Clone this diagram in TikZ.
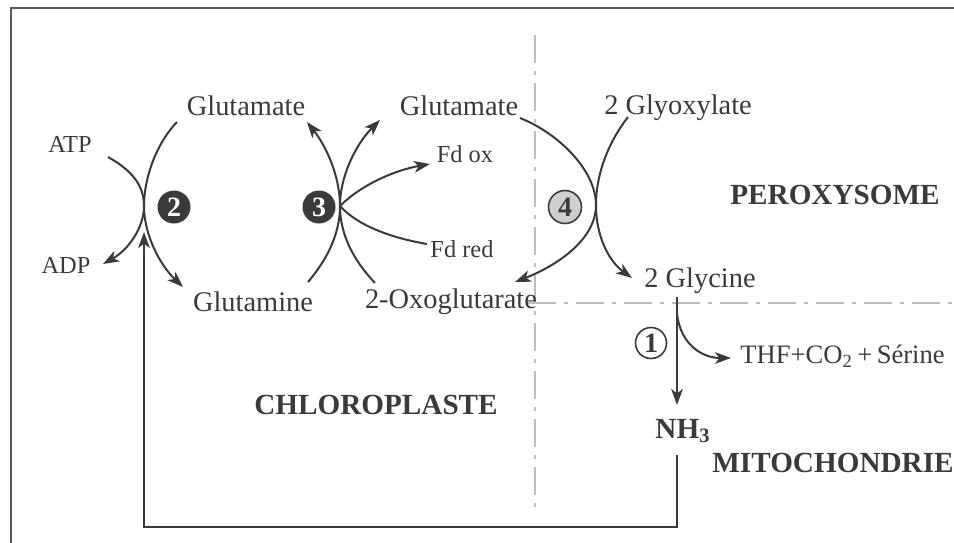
\documentclass[tikz,border=0pt]{standalone}
\usepackage{fontspec}
\setmainfont{Liberation Serif}
\usetikzlibrary{arrows.meta}
\definecolor{ink}{HTML}{3A3A3A}
\definecolor{frame}{HTML}{5A5A5A}
\definecolor{sep}{HTML}{BEBEBE}
\definecolor{enz}{HTML}{CFCFCF}
\begin{document}
\begin{tikzpicture}[x=0.5pt,y=-0.5pt,
  line/.style={ink,line width=1pt},
  arr/.style={ink,line width=1pt,-{Stealth[length=8pt,width=5.8pt,inset=2.2pt]}},
  sepline/.style={sep,line width=0.7pt,dash pattern=on 14pt off 4pt on 2pt off 4pt},
  metab/.style={text=ink,anchor=base,inner sep=0pt,font=\fontsize{14.2}{16}\selectfont},
  cofac/.style={text=ink,anchor=base,inner sep=0pt,font=\fontsize{12.2}{14}\selectfont},
  compart/.style={text=ink,anchor=base,inner sep=0pt,font=\fontsize{14.6}{16}\selectfont\bfseries},
  blackenz/.style={circle,fill=ink,text=white,minimum size=16.5pt,inner sep=0pt,font=\fontsize{14}{14}\selectfont\bfseries},
  greyenz/.style={circle,draw=ink,line width=0.8pt,fill=enz,text=ink,minimum size=16.5pt,inner sep=0pt,font=\fontsize{14}{14}\selectfont\bfseries},
  whiteenz/.style={circle,draw=ink,line width=0.8pt,fill=white,text=ink,minimum size=15.5pt,inner sep=0pt,font=\fontsize{14}{14}\selectfont\bfseries}]
\useasboundingbox (0,0) rectangle (954,542);
\draw[frame,line width=1.3pt] (11,560) -- (11,8) -- (970,8);
\draw[sepline] (535,35) -- (535,512);
\draw[sepline] (528,303) -- (954,303);
\node[cofac] (atp) at (70,152) {ATP};
\node[cofac] (adp) at (66,273) {ADP};
\node[metab] (glu1) at (246,115) {Glutamate};
\node[metab] (gln) at (253,311) {Glutamine};
\node[metab] (glu2) at (459,115) {Glutamate};
\node[metab] (oxo) at (451,308) {2-Oxoglutarate};
\node[cofac] (fdox) at (465,162) {Fd ox};
\node[cofac] (fdred) at (462,257) {Fd red};
\node[metab] (glyox) at (678,114) {2 Glyoxylate};
\node[metab] (gly) at (700,287) {2 Glycine};
\node[metab,anchor=base west,font=\fontsize{13.3}{16}\selectfont] (thf) at (740,363) {THF+CO\textsubscript{2}\,+\,Sérine};
\node[compart] (nh3) at (683,438) {NH\textsubscript{3}};
\node[compart] (chloro) at (376,414) {CHLOROPLASTE};
\node[compart] (perox) at (835,204) {PEROXYSOME};
\node[compart,anchor=base west] (mito) at (712,472) {MITOCHONDRIE};
\node[blackenz] (e2) at (174,207) {2};
\node[blackenz] (e3) at (319,207) {3};
\node[greyenz] (e4) at (565,207) {4};
\node[whiteenz] (e1) at (651,343) {1};
\coordinate (x2) at (144,206);
\coordinate (x3) at (340,206);
\coordinate (x4) at (596,205);
\coordinate (atpout) at (108,157);
\coordinate (adpin) at (103,264);
\coordinate (glu1out) at (177,122);
\coordinate (glnin) at (183,287);
\coordinate (glnout) at (308,282);
\coordinate (glu1in) at (307,122);
\coordinate (oxoout) at (375,283);
\coordinate (glu2in) at (380,120);
\coordinate (fdoxin) at (430,164);
\coordinate (fdredout) at (427,244);
\coordinate (glu2out) at (520,118);
\coordinate (oxoin) at (515,282);
\coordinate (glyoxout) at (628,117);
\coordinate (glyin) at (632,278);
\coordinate (glyout) at (677,297);
\coordinate (nh3in) at (677,405);
\coordinate (branch) at (677,313);
\coordinate (thfin) at (731,358);
\coordinate (nh3out) at (677,455);
\coordinate (corner) at (677,527);
\coordinate (x2low) at (144,232);
\draw[arr] (atpout) .. controls (135,172) and (144,188) .. (x2) .. controls (144,228) and (128,250) .. (adpin);
\draw[arr] (glu1out) .. controls (155,145) and (144,180) .. (x2) .. controls (144,235) and (160,265) .. (glnin);
\draw[arr] (nh3out) -- (corner) -| (x2low);
\draw[arr] (glnout) .. controls (325,262) and (340,236) .. (x3) .. controls (340,176) and (326,146) .. (glu1in);
\draw[arr] (oxoout) .. controls (355,262) and (340,236) .. (x3) .. controls (340,176) and (356,144) .. (glu2in);
\draw[arr] (x3) .. controls (362,184) and (396,170) .. (fdoxin);
\draw[line] (fdredout) .. controls (392,238) and (358,226) .. (x3);
\draw[arr] (glu2out) .. controls (558,133) and (596,170) .. (x4) .. controls (596,240) and (556,266) .. (oxoin);
\draw[arr] (glyoxout) .. controls (610,140) and (596,172) .. (x4) .. controls (596,238) and (610,262) .. (glyin);
\draw[arr] (glyout) -- (nh3in);
\draw[arr] (branch) .. controls (680,345) and (703,358) .. (thfin);
\end{tikzpicture}
\end{document}
